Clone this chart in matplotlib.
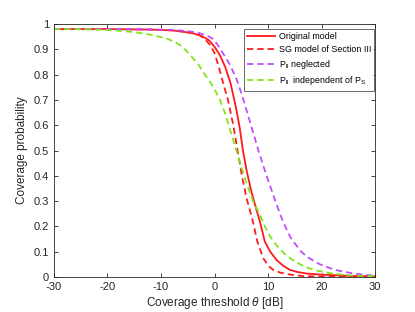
import matplotlib
matplotlib.use("Agg")
import matplotlib.pyplot as plt

plt.rcParams["font.family"] = ["Liberation Sans", "DejaVu Sans"]
plt.rcParams["mathtext.fontset"] = "custom"
plt.rcParams["mathtext.rm"] = "Liberation Sans"
plt.rcParams["mathtext.it"] = "Liberation Sans:italic"
plt.rcParams["axes.unicode_minus"] = False

# Original model (solid red)
orig_theta = [-30, -20, -12, -8, -6, -4, -3, -2, -1, 0, 1, 2, 3, 4, 4.7, 5.3,
              6, 6.8, 7.5, 8.4, 9.4, 10.4, 11.6, 12.8, 14.1, 15.5, 17.2, 19.5,
              21.6, 25, 30]
orig_p = [0.98, 0.98, 0.978, 0.975, 0.97, 0.963, 0.957, 0.948, 0.935, 0.91,
          0.877, 0.83, 0.765, 0.67, 0.59, 0.50, 0.42, 0.345, 0.29, 0.225,
          0.14, 0.10, 0.067, 0.045, 0.028, 0.02, 0.014, 0.01, 0.008, 0.005,
          0.003]

# SG model of Section III (dashed red)
sg_theta = [-30, -20, -12, -8, -5, -3.5, -2.7, -1.8, -0.8, 0, 0.8, 1.5, 2.5,
            3.5, 4.45, 5.2, 6, 7.1, 8, 9.1, 10, 11, 12.2, 13.5, 15, 16.6, 20,
            25, 30]
sg_p = [0.98, 0.98, 0.978, 0.975, 0.968, 0.962, 0.955, 0.94, 0.917, 0.885,
        0.83, 0.775, 0.70, 0.60, 0.48, 0.39, 0.31, 0.225, 0.14, 0.075, 0.045,
        0.028, 0.018, 0.012, 0.007, 0.004, 0.002, 0.001, 0.0]

# P_ll neglected (dashed purple)
negl_theta = [-30, -15, -8, -5, -3, -1.5, -0.2, 0.5, 1, 2, 2.9, 3.5, 4.15, 4.8,
              5.4, 6.1, 6.8, 7.5, 8.2, 9.1, 10, 11.2, 12.4, 13.2, 14.1, 15.1,
              16.2, 17.3, 18.5, 19.7, 21, 22.2, 23.5, 26, 28, 30]
negl_p = [0.98, 0.98, 0.977, 0.972, 0.965, 0.955, 0.94, 0.92, 0.904, 0.87,
          0.838, 0.81, 0.78, 0.74, 0.70, 0.65, 0.60, 0.55, 0.50, 0.44, 0.383,
          0.31, 0.24, 0.20, 0.16, 0.13, 0.10, 0.08, 0.064, 0.05, 0.04, 0.03,
          0.024, 0.014, 0.009, 0.005]

# P_ll independent of P_S (dashed green)
indep_theta = [-30, -24, -21, -18, -15, -12, -9, -7.5, -6.5, -5.2, -4, -3,
               -2.1, -1.3, -0.5, 0.3, 1, 2, 3, 4.1, 5, 6, 7.2, 8.5, 9.4, 10.4,
               11.6, 12.9, 14.4, 16, 17.6, 19.4, 22, 24, 26, 30]
indep_p = [0.98, 0.979, 0.977, 0.974, 0.968, 0.958, 0.943, 0.93, 0.917, 0.893,
           0.864, 0.84, 0.81, 0.785, 0.76, 0.73, 0.70, 0.645, 0.575, 0.50,
           0.435, 0.37, 0.30, 0.245, 0.20, 0.16, 0.125, 0.095, 0.07, 0.05,
           0.035, 0.024, 0.014, 0.009, 0.006, 0.003]

x_ticks = [-30, -20, -10, 0, 10, 20, 30]
y_ticks = [0, 0.1, 0.2, 0.3, 0.4, 0.5, 0.6, 0.7, 0.8, 0.9, 1]

RED = "#ff1a1a"
PURPLE = "#c04dff"
GREEN = "#7fe61a"
DASH = (0, (3.5, 2.2))

fig = plt.figure(figsize=(4.15, 3.12), dpi=100)
ax = fig.add_axes([0.130, 0.112, 0.774, 0.811])

ax.plot(orig_theta, orig_p, color=RED, linewidth=1.3, label="Original model")
ax.plot(sg_theta, sg_p, color=RED, linewidth=1.3, linestyle=DASH,
        label="SG model of Section III")
ax.plot(negl_theta, negl_p, color=PURPLE, linewidth=1.3, linestyle=DASH,
        label=r"P$_{\mathregular{ll}}$ neglected")
ax.plot(indep_theta, indep_p, color=GREEN, linewidth=1.3, linestyle=DASH,
        label=r"P$_{\mathregular{ll}}$  independent of P$_{\mathregular{S}}$")

ax.set_xlim(-30, 30)
ax.set_ylim(0, 1)
ax.set_xticks(x_ticks)
ax.set_yticks(y_ticks)
ax.set_xticklabels([f"{t:g}" for t in x_ticks])
ax.set_yticklabels([f"{t:g}" for t in y_ticks])
ax.tick_params(direction="in", length=3, labelsize=8, colors="#262626",
               top=True, right=True, width=0.6)
for spine in ax.spines.values():
    spine.set_color("#262626")
    spine.set_linewidth(0.6)

ax.set_xlabel(r"Coverage threshold $\it{\theta}$ [dB]", fontsize=8.5,
              color="#262626", labelpad=2)
ax.set_ylabel("Coverage probability", fontsize=8.5, color="#262626",
              labelpad=4)

leg = ax.legend(loc="upper right", bbox_to_anchor=(0.997, 0.98), fontsize=6.4,
                frameon=True, fancybox=False, edgecolor="#262626",
                handlelength=3.2, handletextpad=0.4, borderpad=0.35,
                labelspacing=0.42, borderaxespad=0.0)
leg.get_frame().set_linewidth(0.6)

fig.savefig("out.png", dpi=100, facecolor="white")
